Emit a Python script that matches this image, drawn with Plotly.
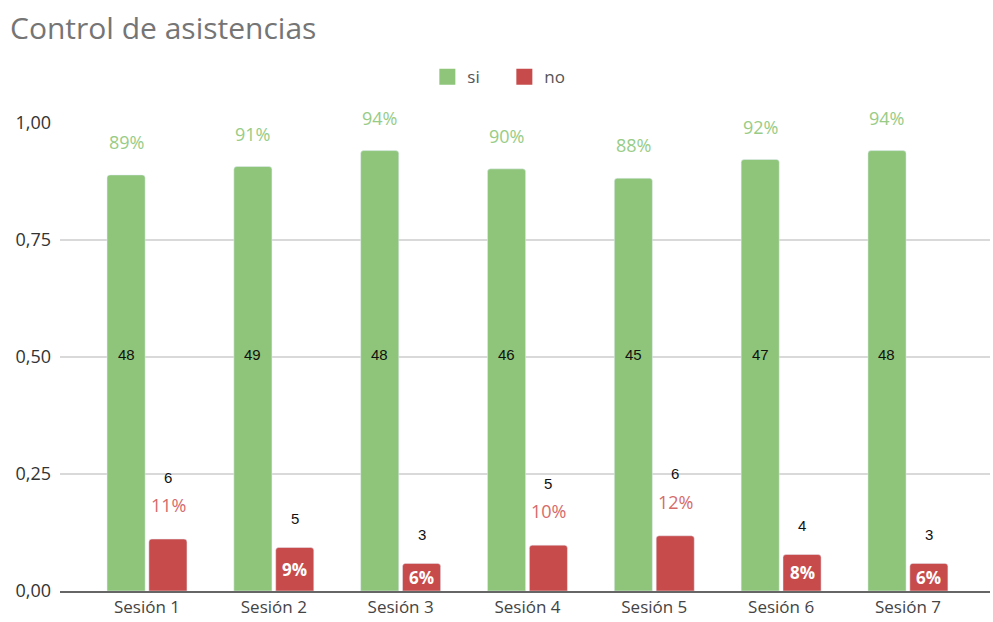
import plotly.graph_objects as go

categories = ["Sesión 1", "Sesión 2", "Sesión 3", "Sesión 4", "Sesión 5", "Sesión 6", "Sesión 7"]
si_frac = [0.889, 0.907, 0.941, 0.902, 0.882, 0.922, 0.941]
no_frac = [0.111, 0.093, 0.059, 0.098, 0.118, 0.078, 0.059]
si_count = [48, 49, 48, 46, 45, 47, 48]
no_count = [6, 5, 3, 5, 6, 4, 3]
si_pct = ["89%", "91%", "94%", "90%", "88%", "92%", "94%"]
no_pct = ["11%", "9%", "6%", "10%", "12%", "8%", "6%"]
no_label_inside = [False, True, True, False, False, True, True]
y_ticks = [0, 0.25, 0.5, 0.75, 1.0]
y_tick_text = ["0,00", "0,25", "0,50", "0,75", "1,00"]

GREEN = "#8ec57a"
RED = "#c74b4b"
GREEN_TXT = "#98cc86"
RED_TXT = "#d66b6b"

fig = go.Figure()
fig.add_trace(go.Bar(x=categories, y=si_frac, name="si", marker_color=GREEN, showlegend=False))
fig.add_trace(go.Bar(x=categories, y=no_frac, name="no", marker_color=RED, showlegend=False))

# legend proxies
fig.add_trace(go.Scatter(x=[None], y=[None], mode="markers", name="si",
                         marker=dict(symbol="square", size=18, color=GREEN)))
fig.add_trace(go.Scatter(x=[None], y=[None], mode="markers", name="no",
                         marker=dict(symbol="square", size=18, color=RED)))

ann = []
OFF = 21
for i, c in enumerate(categories):
    ann.append(dict(x=c, y=si_frac[i], text=si_pct[i], xshift=-OFF, yshift=33,
                    showarrow=False, yanchor="middle",
                    font=dict(family="Open Sans", size=18, color=GREEN_TXT)))
    ann.append(dict(x=c, y=0.505, text=str(si_count[i]), xshift=-OFF,
                    showarrow=False, yanchor="middle",
                    font=dict(family="Liberation Sans", size=15, color="#111111")))
    if no_label_inside[i]:
        ann.append(dict(x=c, y=no_frac[i] / 2, text="<b>" + no_pct[i] + "</b>", xshift=OFF,
                        showarrow=False, yanchor="middle",
                        font=dict(family="Open Sans", size=17, color="#ffffff")))
        ann.append(dict(x=c, y=no_frac[i], text=str(no_count[i]), xshift=OFF, yshift=29,
                        showarrow=False, yanchor="middle",
                        font=dict(family="Liberation Sans", size=15, color="#111111")))
    else:
        ann.append(dict(x=c, y=no_frac[i], text=no_pct[i], xshift=OFF, yshift=34,
                        showarrow=False, yanchor="middle",
                        font=dict(family="Open Sans", size=18, color=RED_TXT)))
        ann.append(dict(x=c, y=no_frac[i], text=str(no_count[i]), xshift=OFF, yshift=62,
                        showarrow=False, yanchor="middle",
                        font=dict(family="Liberation Sans", size=15, color="#111111")))

fig.update_layout(
    width=993, height=622,
    margin=dict(l=60, r=3, t=123, b=31),
    paper_bgcolor="white", plot_bgcolor="white",
    barmode="group", bargap=0.34, bargroupgap=0.09, barcornerradius=3,
    title=dict(text="Control de asistencias", x=10 / 993, xref="container", xanchor="left",
               y=1 - 28 / 622, yref="container", yanchor="middle",
               font=dict(family="Open Sans", size=30, color="#757575")),
    legend=dict(orientation="h", x=0.395, xanchor="left", y=1.098, yanchor="middle",
                font=dict(family="Open Sans", size=17, color="#555555"),
                itemsizing="trace", itemwidth=30, traceorder="normal",
                entrywidth=32, entrywidthmode="pixels"),
    annotations=ann,
    font=dict(family="Open Sans"),
)
fig.update_xaxes(type="category", range=[-0.686, 6.647], showgrid=False,
                 showline=True, linecolor="#666666", linewidth=2,
                 tickfont=dict(family="Open Sans", size=17, color="#444444"),
                 ticks="", fixedrange=True)
fig.update_yaxes(range=[0, 1.0], tickvals=y_ticks, ticktext=y_tick_text,
                 showgrid=True, gridcolor="#d9d9d9", gridwidth=1.5, zeroline=False,
                 tickfont=dict(family="Open Sans", size=18, color="#333333"),
                 ticklabelstandoff=8, fixedrange=True)

fig.write_html("out.html")
